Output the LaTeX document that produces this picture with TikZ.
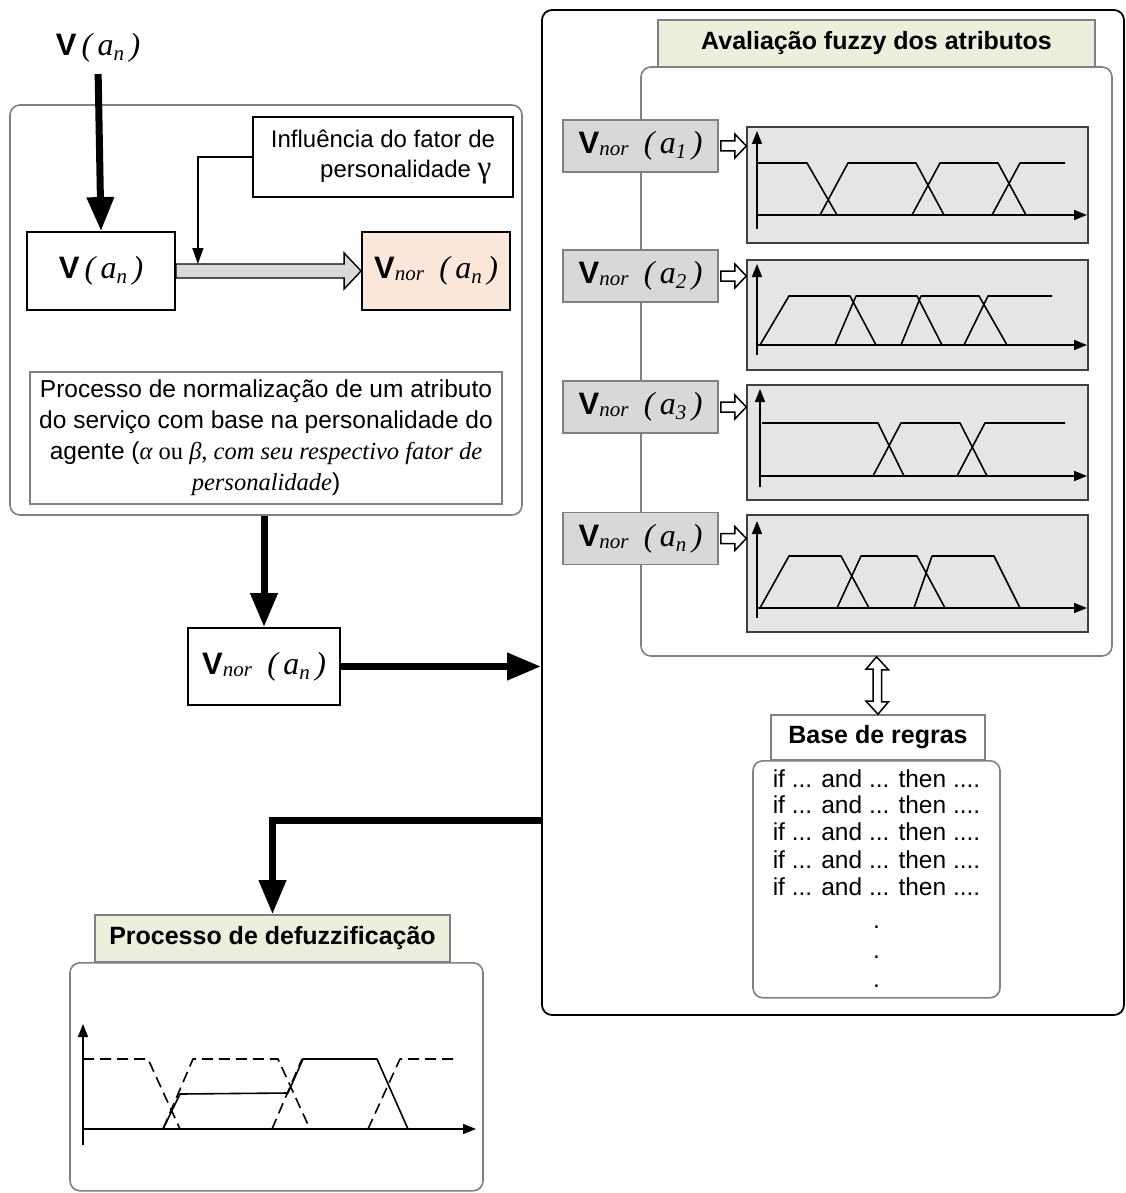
\documentclass[tikz,border=0pt]{standalone}
\usepackage{fontspec}
\setmainfont{Liberation Sans}
\newfontfamily\serifit{Liberation Serif}
\usetikzlibrary{positioning, arrows.meta, calc}
\definecolor{TabGreen}{HTML}{EDEFDC}
\definecolor{Peach}{HTML}{FBE8DB}
\definecolor{PanelGray}{HTML}{E5E5E5}
\definecolor{InGray}{HTML}{D8D8D8}
\definecolor{Frame}{HTML}{808080}

\newcommand{\Arg}[1]{{\serifit\itshape\fontsize{32}{32}\selectfont(\,a\raisebox{-5pt}{\fontsize{21}{21}\selectfont#1}\,)}}
\newcommand{\Vlab}[1]{\textbf{V}\,\Arg{#1}}
\newcommand{\Vnor}[1]{\textbf{V}\raisebox{-2pt}{\serifit\itshape\fontsize{21}{21}\selectfont nor}\enspace\Arg{#1}}

\begin{document}
\begin{tikzpicture}[
    x=1pt, y=-1pt,
    blackbox/.style={draw=black, line width=1.8pt, inner sep=0pt, align=center},
    graybox/.style={draw=Frame, line width=1.6pt, inner sep=0pt, align=center},
    roundbox/.style={graybox, rounded corners=10pt},
    tab/.style={graybox, fill=TabGreen, font=\fontsize{25}{28}\selectfont\bfseries},
    vfont/.style={font=\fontsize{31}{34}\selectfont},
    txt/.style={font=\fontsize{24.5}{31}\selectfont},
    vbox/.style={graybox, fill=InGray, vfont, minimum width=155pt, minimum height=52pt},
    panel/.style={draw=black!75, line width=1.4pt, fill=PanelGray, minimum width=341pt},
    thickarr/.style={-{Triangle[length=34pt,width=26pt]}, line width=7pt},
    thinarr/.style={-{Triangle[length=16pt,width=11pt]}, line width=1.5pt},
    axis/.style={-{Triangle[length=13pt,width=10pt]}, line width=1.6pt},
    mf/.style={line width=1.6pt, line join=round},
    dmf/.style={mf, dash pattern=on 11pt off 6pt},
    hollow/.style={draw=black, fill=white, line width=1.5pt},
    fat/.style={draw=black, fill=gray!30, line width=1.4pt}
]
\useasboundingbox (0,0) rectangle (1126,1193);

% right block: fuzzy evaluation
\node[blackbox, rounded corners=10pt, fill=white, minimum width=582pt, minimum height=1005pt] (fuzzy) at (833,512.5) {};
\node[roundbox, fill=white, minimum width=471pt, minimum height=589pt] (inner) at (876.5,361.5) {};
\node[tab, minimum width=437pt, minimum height=47pt] (avtab) at (876.5,43.5) {Avaliação fuzzy dos atributos};

\node[vbox] (a1) at (640.5,146) {\Vnor{1}};
\node[vbox] (a2) at (640.5,276) {\Vnor{2}};
\node[vbox] (a3) at (640.5,407) {\Vnor{3}};
\node[vbox] (an) at (640.5,538.5) {\Vnor{n}};

\node[panel, minimum height=116pt] (p1) at (917.5,185) {};
\node[panel, minimum height=110pt] (p2) at (917.5,315) {};
\node[panel, minimum height=115pt] (p3) at (917.5,442.5) {};
\node[panel, minimum height=117pt] (p4) at (917.5,573.5) {};

% hollow arrows into the panels
\foreach \v/\p in {a1/p1, a2/p2, a3/p3, an/p4}
  \draw[hollow] (\v.east) ++(2,-5) -- ++(14,0) -- ++(0,-7) -- (\v.east -| \p.west) -- ($(\v.east)+(16,12)$) -- ++(0,-7) -- ++(-14,0) -- cycle;

% membership functions
\draw[axis] (757,229) -- (757,131);
\draw[axis] (757,215) -- (1087,215);
\draw[mf] (757,163) -- (807,163) -- (837,215);
\draw[mf] (820,215) -- (848,163) -- (916,163) -- (944,215);
\draw[mf] (912,215) -- (940,163) -- (998,163) -- (1026,215);
\draw[mf] (992,215) -- (1020,163) -- (1065,163);

\draw[axis] (757,355) -- (757,264);
\draw[axis] (757,345) -- (1087,345);
\draw[mf] (760,345) -- (789,296) -- (850,296) -- (876,345);
\draw[mf] (835,345) -- (856,296) -- (917,296) -- (942,345);
\draw[mf] (901,345) -- (921,296) -- (979,296) -- (1007,345);
\draw[mf] (964,345) -- (988,296) -- (1052,296);

\draw[axis] (760,487) -- (760,389);
\draw[axis] (760,476) -- (1087,476);
\draw[mf] (762,423) -- (878,423) -- (904,476);
\draw[mf] (873,476) -- (901,423) -- (960,423) -- (987,476);
\draw[mf] (957,476) -- (985,423) -- (1065,423);

\draw[axis] (757,618) -- (757,521);
\draw[axis] (757,608) -- (1087,608);
\draw[mf] (760,608) -- (789,556) -- (841,556) -- (869,608);
\draw[mf] (837,608) -- (861,556) -- (917,556) -- (945,608);
\draw[mf] (914,608) -- (932,556) -- (994,556) -- (1020,608);

% rule base
\node[graybox, fill=white, minimum width=214pt, minimum height=45pt, font=\fontsize{25}{28}\selectfont\bfseries] (rtab) at (878,737.5) {Base de regras};
\node[roundbox, fill=white, minimum width=247pt, minimum height=237pt, anchor=north] (rules) at (876.5,760) {};
\node[font=\fontsize{24.5}{26.5}\selectfont, align=center, anchor=north] (rtext) at (876.5,766) {if ... and ... then ....\\if ... and ... then ....\\if ... and ... then ....\\[2pt]if ... and ... then ....\\if ... and ... then ....};
\node[font=\fontsize{24.5}{29.5}\selectfont, align=center] (rdots) at (876.5,957) {.\\.\\.};
\draw[hollow] (inner.south) -- ++(12,13) -- ++(-7,0) -- ++(0,32) -- ++(7,0) -- (rtab.north) -- ++(-12,-13) -- ++(7,0) -- ++(0,-32) -- ++(-7,0) -- cycle;

% left block: normalisation
\node[vfont] (vtop) at (98,48) {\Vlab{n}};
\node[roundbox, minimum width=512pt, minimum height=410pt] (norm) at (266,310) {};
\node[blackbox, vfont, minimum width=148pt, minimum height=78pt] (vin) at (101,271) {\Vlab{n}};
\node[blackbox, vfont, fill=Peach, minimum width=148pt, minimum height=78pt] (vnor) at (436,271) {\Vnor{n}};
\node[blackbox, txt, font=\fontsize{24}{30}\selectfont, minimum width=260pt, minimum height=80pt] (infl) at (383,157) {Influência do fator de\\\hspace*{1.9em}personalidade {\serifit\fontsize{31}{30}\selectfont γ}};
\node[graybox, txt, minimum width=472pt, minimum height=132pt] (ptext) at (266,438) {Processo de normalização de um atributo\\do serviço com base na personalidade do\\agente ({\serifit\itshape α \upshape ou \itshape β, com seu respectivo fator de}\\{\serifit\itshape personalidade})};

\draw[thickarr, shorten <=8pt] (vtop.south) -- (vin.north);
\draw[fat] ([yshift=7pt]vin.east) -- ([xshift=-17pt,yshift=7pt]vnor.west) -- ([xshift=-17pt,yshift=18pt]vnor.west) -- (vnor.west) -- ([xshift=-17pt,yshift=-18pt]vnor.west) -- ([xshift=-17pt,yshift=-7pt]vnor.west) -- ([yshift=-7pt]vin.east) -- cycle;
\draw[thinarr] (infl.west) -| ([xshift=22pt,yshift=7pt]vin.east);

\node[blackbox, vfont, minimum width=152pt, minimum height=77pt] (vnor2) at (264,666.5) {\Vnor{n}};
\draw[thickarr] (norm.south -| vnor2.north) -- (vnor2.north);
\draw[thickarr] (vnor2.east) -- (vnor2.east -| fuzzy.west);

% defuzzification
\node[tab, minimum width=355pt, minimum height=47pt] (deftab) at (272.5,938.5) {Processo de defuzzificação};
\node[roundbox, minimum width=413pt, minimum height=228pt, anchor=north] (defbox) at (276.5,962) {};
\coordinate (outfz) at (fuzzy.west |- 0,820);
\draw[thickarr] (outfz) -| (deftab.north);

\draw[axis] (83,1145) -- (83,1024);
\draw[axis] (83,1129) -- (476,1129);
\draw[dmf] (83,1059) -- (148,1059) -- (180,1129);
\draw[dmf] (163,1129) -- (193,1059) -- (278,1059) -- (310,1129);
\draw[dmf] (272,1129) -- (302,1059);
\draw[dmf] (368,1129) -- (400,1059) -- (455,1059);
\draw[mf] (163,1129) -- (180,1094) -- (288,1093) -- (303,1059) -- (377,1059) -- (408,1129);
\end{tikzpicture}
\end{document}
